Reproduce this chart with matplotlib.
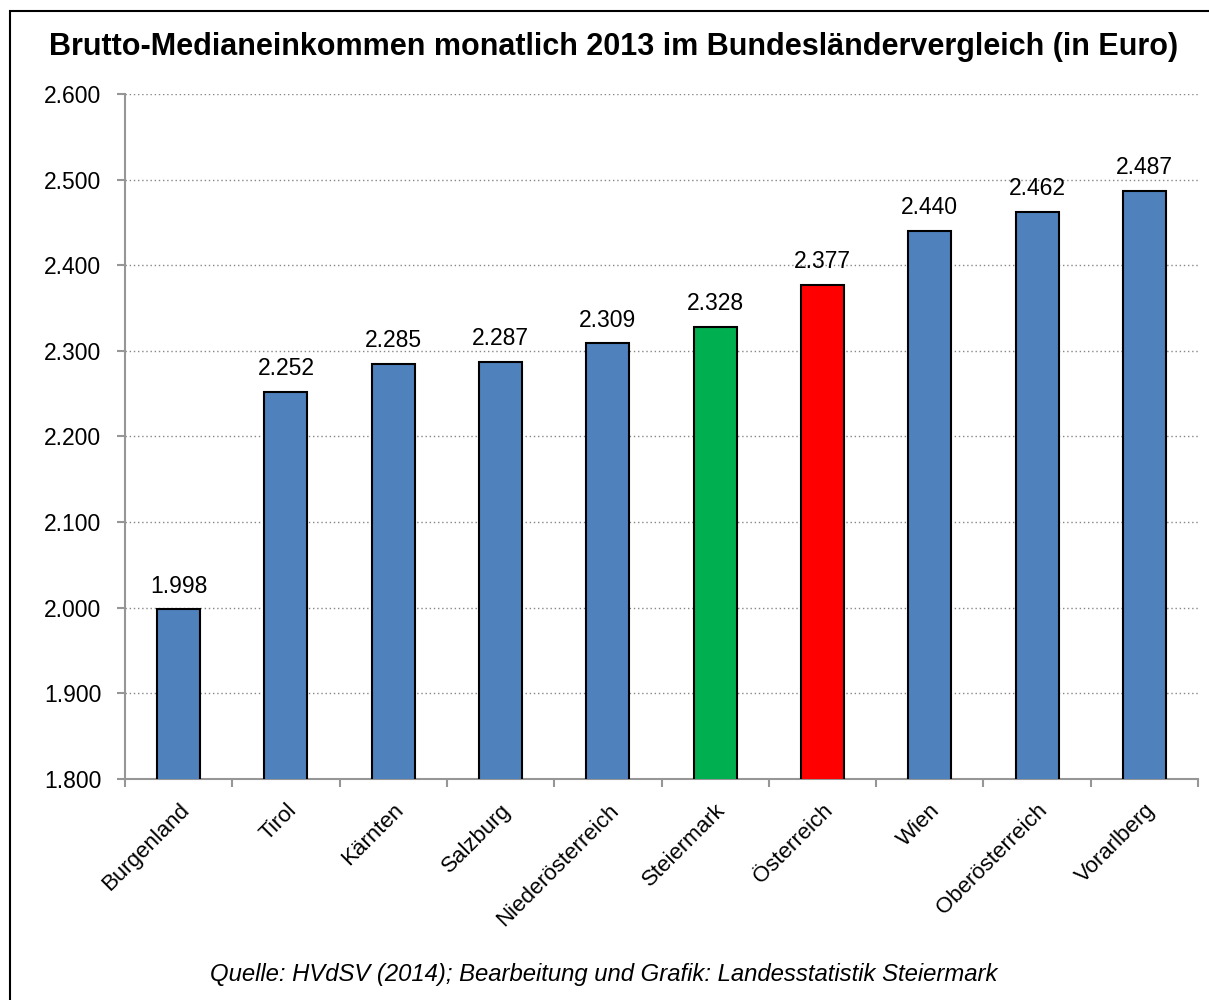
import numpy as np
import matplotlib.pyplot as plt
from matplotlib.patches import Rectangle
from matplotlib.transforms import ScaledTranslation

plt.rcParams['font.family'] = ['Liberation Sans', 'DejaVu Sans']

regions = ['Burgenland', 'Tirol', 'Kärnten', 'Salzburg', 'Niederösterreich',
           'Steiermark', 'Österreich', 'Wien', 'Oberösterreich', 'Vorarlberg']
income = [1998, 2252, 2285, 2287, 2309, 2328, 2377, 2440, 2462, 2487]
colors = ['#4F81BD'] * 5 + ['#00B050', '#FF0000'] + ['#4F81BD'] * 3


def fmt(v):
    # German thousands separator
    return f'{v:,.0f}'.replace(',', '.')


fig = plt.figure(figsize=(12.09, 10), dpi=100)
ax = fig.add_axes([0.1034, 0.221, 0.8875, 0.685])

x = np.arange(len(regions))
ax.bar(x, income, width=0.4, color=colors, edgecolor='black', linewidth=1.5, zorder=3)
for xi, v in zip(x, income):
    ax.annotate(fmt(v), (xi, v), xytext=(0, 12), textcoords='offset points',
                ha='center', va='baseline', fontsize=16.5)

ax.set_ylim(1800, 2600)
ax.set_xlim(-0.5, len(regions) - 0.5)
ax.set_yticks(np.arange(1800, 2601, 100))
ax.set_yticklabels([fmt(t) for t in np.arange(1800, 2601, 100)], fontsize=16.5)
ax.set_xticks(x)
ax.set_xticklabels(regions, rotation=45, ha='right', rotation_mode='anchor', fontsize=16)
shift = ScaledTranslation(4 / 100, 0, fig.dpi_scale_trans)
for lbl in ax.get_xticklabels():
    lbl.set_transform(lbl.get_transform() + shift)
ax.set_xticks(np.arange(-0.5, len(regions)), minor=True)
ax.tick_params(axis='x', which='major', length=0, pad=15)
ax.tick_params(axis='x', which='minor', length=6, color='#969696', width=1.5)
ax.tick_params(axis='y', length=6, color='#969696', width=1.5, pad=11)
ax.grid(axis='y', linestyle=(0, (1, 2)), color='#868686', linewidth=1, zorder=0)
for s in ['top', 'right']:
    ax.spines[s].set_visible(False)
for s in ['left', 'bottom']:
    ax.spines[s].set_color('#969696')
    ax.spines[s].set_linewidth(1.5)

fig.text(0.5075, 0.953, 'Brutto-Medianeinkommen monatlich 2013 im Bundesländervergleich (in Euro)',
         ha='center', va='center', fontsize=22.0, fontweight='bold')
fig.text(0.499, 0.025, 'Quelle: HVdSV (2014); Bearbeitung und Grafik: Landesstatistik Steiermark',
         ha='center', va='center', fontsize=17.2, style='italic')

# frame: left and top edges visible, right and bottom run off the image
fig.patches.append(Rectangle((10 / 1209, -0.05), 1.0, 1.039,
                             transform=fig.transFigure, fill=False,
                             edgecolor='black', linewidth=1.5))

fig.savefig('out.png', dpi=100)
